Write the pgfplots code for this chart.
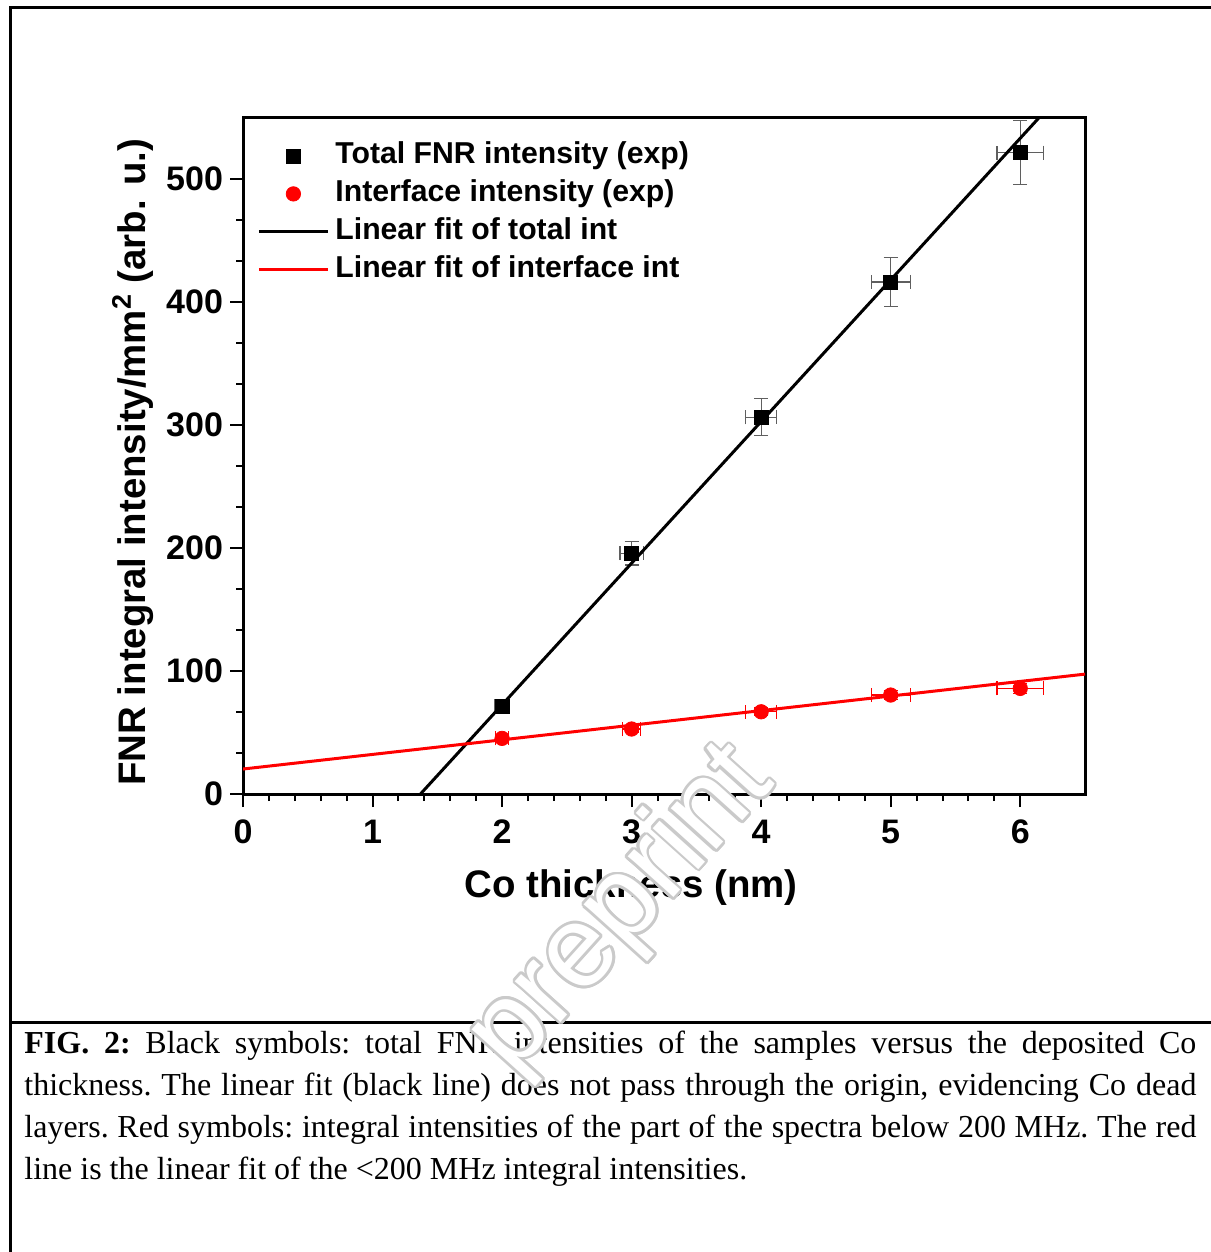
\documentclass[border=0pt]{standalone}
\usepackage{pgfplots}
\pgfplotsset{compat=1.18}
\usepackage{fontspec}
\setmainfont{Liberation Serif}
\setsansfont{Liberation Sans}
\definecolor{ebgray}{RGB}{95,95,95}
\definecolor{wmgray}{RGB}{202,202,202}

\begin{document}
\begin{tikzpicture}
\useasboundingbox (0,0) rectangle (605pt,-626pt);
% frame of the figure cell
\draw[line width=1.5pt] (606pt,-4pt) -- (5pt,-4pt) -- (5pt,-627pt);
\draw[line width=1.5pt] (5pt,-511pt) -- (606pt,-511pt);

\begin{axis}[
  at={(121.5pt,-397pt)}, anchor=south west,
  scale only axis, width=421pt, height=338.5pt,
  xmin=0, xmax=6.5, ymin=0, ymax=550,
  xtick={0,...,6}, ytick={0,100,...,500},
  minor x tick num=4, minor y tick num=2,
  tick pos=left, tick align=outside,
  major tick length=6.5pt, minor tick length=3.5pt,
  axis line style={line width=1.5pt},
  every tick/.style={black, line width=1pt},
  /pgf/number format/assume math mode=true,
  ticklabel style={font=\sffamily\bfseries\fontsize{17}{17}\selectfont},
  xticklabel style={yshift=-3pt},
  label style={font=\sffamily\bfseries\fontsize{19.2}{20}\selectfont},
  xlabel={Co thickness (nm)},
  ylabel={FNR integral intensity/mm\textsuperscript{2} (arb. u.)},
  xlabel style={at={(axis description cs:0.461,-0.1375)}, anchor=center},
  ylabel style={at={(axis description cs:-0.1306,0.49)}, anchor=center},
  legend style={draw=none, fill=none, at={(axis description cs:0,1)}, anchor=north west,
    xshift=7pt, yshift=-11pt, inner sep=0pt, row sep=2.5pt,
    font=\sffamily\bfseries\fontsize{15.1}{15}\selectfont,
    nodes={inner sep=1pt, text height=11pt, text depth=3.5pt},
    /tikz/every odd column/.append style={column sep=2pt}},
  legend cell align=left,
  legend image code/.code={\draw[mark repeat=2,mark phase=2] plot coordinates {(0pt,0pt)(17.25pt,0pt)(34.5pt,0pt)};},
]
\addplot[only marks, mark=square*, mark size=3.5pt, black,
  error bars/.cd, x dir=both, x explicit, y dir=both, y explicit,
  error bar style={ebgray, line width=0.6pt},
  error mark options={ebgray, line width=0.6pt, mark size=3.5pt, rotate=90}]
  coordinates {
  (2,71.4) +- (0.06,4)
  (3,195.6) +- (0.09,9.5)
  (4,306) +- (0.12,15)
  (5,416) +- (0.15,20)
  (6,521) +- (0.18,26)
};
\addlegendentry{Total FNR intensity (exp)}
\addplot[only marks, mark=*, mark size=3.6pt, red,
  error bars/.cd, x dir=both, x explicit, y dir=both, y explicit,
  error bar style={red, line width=0.6pt},
  error mark options={red, line width=0.6pt, mark size=3.5pt, rotate=90}]
  coordinates {
  (2,45.2) +- (0.05,2)
  (3,52.8) +- (0.07,2.5)
  (4,66.8) +- (0.12,3)
  (5,80.4) +- (0.15,3.5)
  (6,85.8) +- (0.18,4)
};
\addlegendentry{Interface intensity (exp)}
\addplot[black, line width=1.5pt] coordinates {(1.37,0) (6.15,550)};
\addlegendentry{Linear fit of total int}
\addplot[red, line width=1.5pt] coordinates {(0,20.3) (6.5,97.4)};
\addlegendentry{Linear fit of interface int}
\end{axis}

% caption of the figure
\node[anchor=north west, inner sep=0pt, text width=586pt, align=justify,
  font=\fontsize{16}{21}\selectfont] at (12pt,-515.5pt)
  {\frenchspacing\hyphenpenalty=10000\textbf{FIG. 2:} Black symbols: total FNR intensities of the samples versus the deposited Co\linebreak
  thickness. The linear fit (black line) does not pass through the origin, evidencing Co dead\linebreak
  layers. Red symbols: integral intensities of the part of the spectra below 200 MHz. The red\linebreak
  line is the linear fit of the <200 MHz integral intensities.};

% outlined watermark: grey copies round a white one
\foreach \a in {0,22.5,...,337.5}
  \node[wmgray, rotate=48, inner sep=0pt, shift={(\a:1.3pt)},
    font=\sffamily\fontsize{58}{58}\selectfont] at (311pt,-455pt) {preprint};
\node[white, rotate=48, inner sep=0pt,
  font=\sffamily\fontsize{58}{58}\selectfont] at (311pt,-455pt) {preprint};
\end{tikzpicture}
\end{document}
